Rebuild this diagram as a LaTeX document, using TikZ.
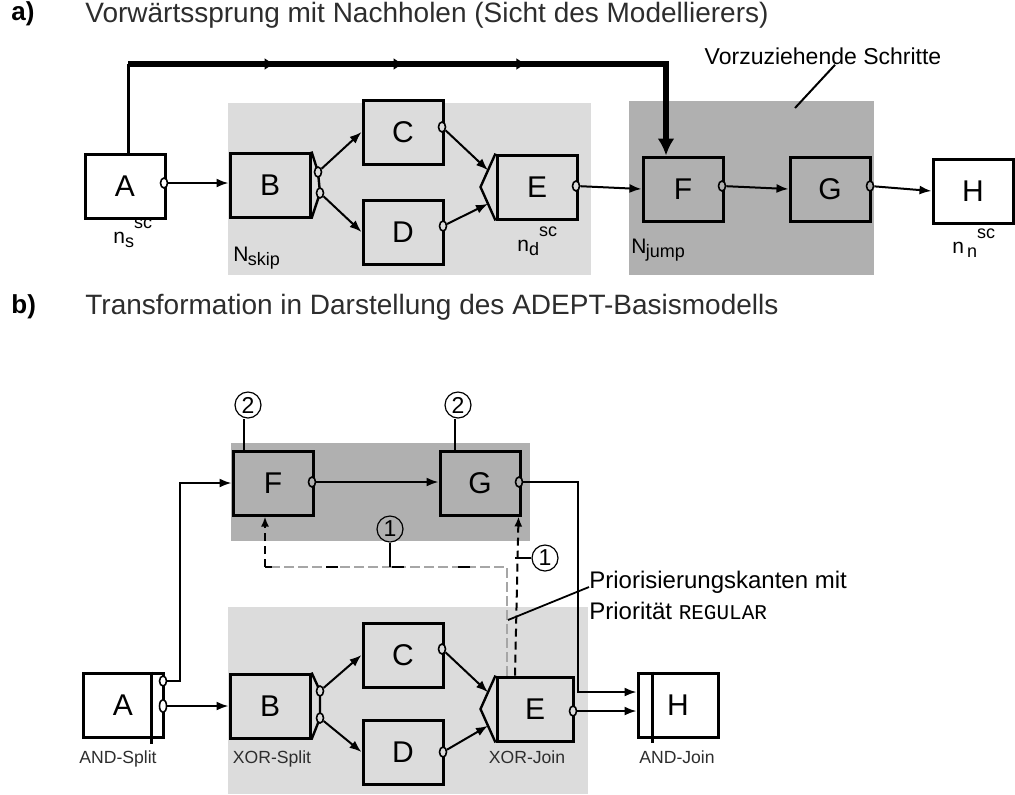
\documentclass[tikz,border=0pt]{standalone}
\usepackage{fontspec}
\setmainfont{Liberation Sans}
\setmonofont{Liberation Mono}
\usepackage{tikz}
\usetikzlibrary{shapes.geometric, arrows.meta, calc, decorations.markings}

\definecolor{skipgray}{RGB}{220,220,220}
\definecolor{jumpgray}{RGB}{176,176,176}
\definecolor{txtgray}{RGB}{45,45,45}

\newcommand{\scname}[1]{n\raisebox{-2pt}{\fontsize{9}{10}\selectfont #1}\raisebox{7.5pt}{\fontsize{9}{10}\selectfont sc}}
\newcommand{\subname}[1]{N\kern-0.3pt\raisebox{-2pt}{\fontsize{9}{10}\selectfont #1}}

\begin{document}
\begin{tikzpicture}[
  x=0.5pt, y=-0.5pt,
  every node/.style={font=\fontsize{10}{12}\selectfont},
  task/.style={
    rectangle, draw=black, line width=1.5pt, fill=skipgray,
    minimum width=40pt, minimum height=32pt, inner sep=0pt,
    font=\fontsize{15}{17}\selectfont},
  port/.style={
    ellipse, draw=black, line width=0.8pt, fill=white,
    minimum width=3.5pt, minimum height=5pt, inner sep=0pt},
  gate/.style={draw=black, line width=1.2pt},
  arr/.style={
    -{Latex[length=6pt,width=4.5pt]},
    draw=black, line width=1pt},
  jarr/.style={
    -{Latex[length=8.5pt,width=8.5pt]},
    draw=black, line width=3pt,
    postaction={decorate},
    decoration={markings,
      mark=at position 0.233 with {\arrow{Latex[length=5pt,width=6pt]}},
      mark=at position 0.438 with {\arrow{Latex[length=5pt,width=6pt]}},
      mark=at position 0.633 with {\arrow{Latex[length=5pt,width=6pt]}}}},
  prio/.style={
    -{Latex[length=5pt,width=4pt]},
    draw=black, line width=1pt, dash pattern=on 4pt off 2.5pt},
  faint/.style={draw=black!35, line width=0.6pt, dash pattern=on 5pt off 2pt},
  sparse/.style={draw=black, line width=1.2pt, dash pattern=on 6pt off 27pt, dash phase=14.5pt},
  tick/.style={draw=black, line width=1.2pt},
  num/.style={
    circle, draw=black, line width=0.6pt, minimum size=13pt,
    inner sep=0pt, font=\fontsize{11.5}{13}\selectfont},
  part/.style={anchor=west, inner sep=0pt, font=\bfseries\fontsize{13}{16}\selectfont},
  title/.style={anchor=west, inner sep=0pt, text=txtgray, font=\fontsize{14}{17}\selectfont},
  lbl/.style={inner sep=0pt, font=\fontsize{10.5}{12}\selectfont},
  small/.style={inner sep=0pt, anchor=base, text=txtgray, font=\fontsize{8.8}{10}\selectfont},
]
\useasboundingbox (0,0) rectangle (1015,794);

\node[part]  (la) at (11,14) {a)};
\node[title] (ta) at (85,15) {Vorwärtssprung mit Nachholen (Sicht des Modellierers)};

\fill[skipgray] (228,103) rectangle (591,275);
\fill[jumpgray] (629,101) rectangle (874,275);

\node[task, fill=white]    (A) at (125,186) {A};
\node[task]                (B) at (270,185) {B};
\node[task]                (C) at (403,132) {C};
\node[task]                (D) at (403,232) {D};
\node[task]                (E) at (537,187) {E};
\node[task, fill=jumpgray] (F) at (683,189) {F\hspace{16pt}};
\node[task, fill=jumpgray] (G) at (830,189) {G\hspace{10pt}};
\node[task, fill=white]    (H) at (973,191) {H\hspace{5pt}};

\coordinate (Ej) at ([xshift=-7.5pt]E.west);
\draw[gate] (B.north east) -- (318,172) -- (320,193) -- (B.south east);
\draw[gate] (E.north west) -- (Ej) -- (E.south west);

\node[port]                (Ao)  at (164,183) {};
\node[port, fill=skipgray] (Bo1) at (318,172) {};
\node[port, fill=skipgray] (Bo2) at (320,193) {};
\node[port, fill=skipgray] (Co)  at (442,127) {};
\node[port, fill=skipgray] (Do)  at (443,226) {};
\node[port, fill=skipgray] (Eo)  at (576,186) {};
\node[port, fill=jumpgray] (Fo)  at (722,186) {};
\node[port, fill=jumpgray] (Go)  at (870,186) {};

\draw[arr] (Ao) -- (B.west |- Ao);
\draw[arr] (Bo1) -- (C.west);
\draw[arr] (Bo2) -- (D.west);
\draw[arr] (Co) -- ($(E.north west)!0.5!(Ej)$);
\draw[arr] (Do) -- ($(E.south west)!0.5!(Ej)$);
\draw[arr] (Eo) -- (F.west);
\draw[arr] (Fo) -- (G.west);
\draw[arr] (Go) -- (H.west);

\coordinate (jtop) at (400,64);
\draw[line width=1.5pt] ([xshift=1.5pt]A.north) -- ([xshift=1.5pt]A.north |- jtop);
\draw[jarr] ([xshift=1.5pt]A.north |- jtop) -| ([xshift=-8.5pt]F.north);

\node[lbl, font=\fontsize{11.5}{14}\selectfont] (vz) at (823,56) {Vorzuziehende Schritte};
\coordinate (vzend) at (795,108);
\draw[line width=1pt] ([xshift=6pt]vz.south) -- (vzend);

\node[lbl, anchor=base west] (ns)    at (113,243) {\scname{s}};
\node[lbl, anchor=base west] (nd)    at (517,251) {\scname{d}};
\node[lbl, anchor=base west] (nn)    at (952,253) {\scname{\,n}};
\node[lbl, anchor=base west] (nskip) at (233,261) {\subname{skip}};
\node[lbl, anchor=base west] (njump) at (631,253) {\subname{jump}};

\node[part]  (lb) at (11,307) {b)};
\node[title] (tb) at (85,307) {Transformation in Darstellung des ADEPT-Basismodells};

\fill[jumpgray] (231,443) rectangle (530,541);
\fill[skipgray] (228,607) rectangle (588,794);

\node[task, fill=white]    (Ab) at (123,705) {A\hspace{13pt}};
\node[task]                (Bb) at (270,706) {B};
\node[task]                (Cb) at (403,655) {C};
\node[task]                (Db) at (403,752) {D};
\node[task, minimum width=38pt] (Eb) at (535,709) {E};
\node[task, fill=jumpgray] (Fb) at (273,483) {F\hspace{12pt}};
\node[task, fill=jumpgray] (Gb) at (480,483) {G\hspace{11pt}};
\node[task, fill=white]    (Hb) at (678,705) {H\hspace{7pt}};

\draw[gate, line width=1.5pt] ([xshift=-6.5pt]Ab.north east) -- ([xshift=-6.5pt,yshift=-2.5pt]Ab.south east);
\draw[gate, line width=1.5pt] ([xshift=8pt]Hb.north west) -- ([xshift=8pt,yshift=-2pt]Hb.south west);

\coordinate (Ebj) at ([xshift=-7.5pt]Eb.west);
\draw[gate] (Bb.north east) -- (320,691) -- (320,718) -- (Bb.south east);
\draw[gate] (Eb.north west) -- (Ebj) -- (Eb.south west);

\node[port]                (Abo1) at (163,681) {};
\node[port, minimum height=6.5pt] (Abo2) at (163,706) {};
\node[port, fill=skipgray] (Bbo1) at (320,691) {};
\node[port, fill=skipgray] (Bbo2) at (320,718) {};
\node[port, fill=skipgray] (Cbo)  at (442,649) {};
\node[port, fill=skipgray] (Dbo)  at (443,752) {};
\node[port, fill=skipgray] (Ebo)  at (573,711) {};
\node[port, fill=jumpgray] (Fbo)  at (312,482) {};
\node[port, fill=jumpgray] (Gbo)  at (519,482) {};

\coordinate (aturn) at (180,600);
\coordinate (gturn) at (578,600);
\draw[arr] (Abo1) -| (aturn) |- (Fb.west);
\draw[arr] (Abo2) -- (Bb.west |- Abo2);
\draw[arr] (Bbo1) -- (Cb.west);
\draw[arr] (Bbo2) -- (Db.west);
\draw[arr] (Cbo) -- ($(Eb.north west)!0.5!(Ebj)$);
\draw[arr] (Dbo) -- ($(Eb.south west)!0.5!(Ebj)$);
\draw[arr] (Fbo) -- (Gb.west |- Fbo);
\draw[arr] (Gbo) -| (gturn) |- ([yshift=6.5pt]Hb.west);
\draw[arr] (Ebo) -- (Hb.west |- Ebo);

\node[num] (n2F) at (248,405) {2};
\node[num] (n2G) at (458,405) {2};
\node[num] (n1a) at (390,529) {1};
\node[num] (n1b) at (545,558) {1};
\draw[tick] ([xshift=-14.5pt]Fb.north) -- ([xshift=-14.5pt]Fb.north |- n2F.south);
\draw[tick] ([xshift=-12.5pt]Gb.north) -- ([xshift=-12.5pt]Gb.north |- n2G.south);

\coordinate (hline) at (0,567);
\coordinate (Et1) at ([xshift=-14pt]Eb.north);
\coordinate (Et2) at ([xshift=-10pt]Eb.north);
\coordinate (Fd)  at ([xshift=-4pt]Fb.south);
\coordinate (Gd)  at ([xshift=-1.5pt]Gb.south east);
\draw[faint]  (Et1) |- (Fd |- hline);
\draw[sparse] (Et1 |- hline) -- (Fd |- hline);
\draw[prio]   (Fd |- hline) -- (Fd);
\draw[prio]   (Et2) -- (Gd);
\draw[tick]   (n1a) -- (n1a |- hline);
\draw[tick]   (n1b.west) -- (Et2 |- n1b);

\node[lbl, anchor=north west, align=left, font=\fontsize{12}{15.5}\selectfont] (prio) at (589,571)
  {Priorisierungskanten mit\\Priorität {\ttfamily\fontsize{10.5}{12}\selectfont REGULAR}};
\coordinate (prend) at (508,620);
\draw[line width=0.9pt] ([yshift=-8pt]prio.north west) -- (prend);

\node[small] (lAb) at (118,763) {AND-Split};
\node[small] (lBb) at (272,763) {XOR-Split};
\node[small] (lEb) at (527,763) {XOR-Join};
\node[small] (lHb) at (677,763) {AND-Join};

\end{tikzpicture}
\end{document}
